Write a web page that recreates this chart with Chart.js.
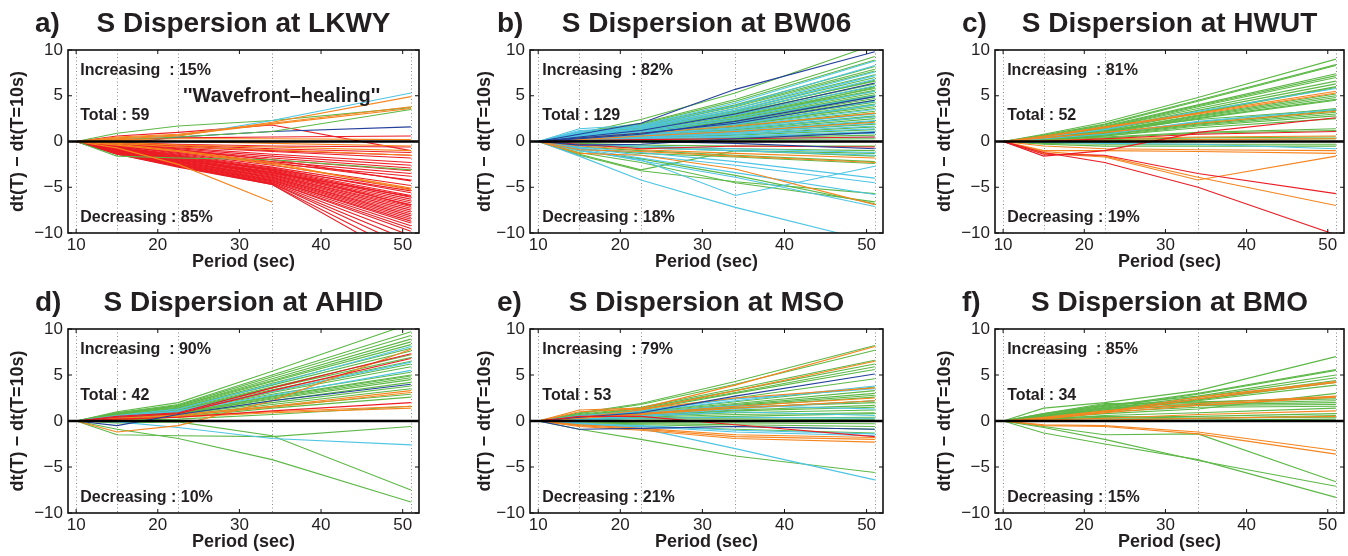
<!DOCTYPE html>
<html>
<head>
<meta charset="utf-8">
<title>S Dispersion</title>
<script src="https://cdn.jsdelivr.net/npm/chart.js@4/dist/chart.umd.min.js"></script>
<style>
  body { margin: 0; background: #fff; width: 1348px; height: 556px; overflow: hidden; position: relative; }
  canvas { position: absolute; }
</style>
</head>
<body>
<script>
// measurement periods (sec); every curve is dt(T) - dt(T=10s), so it starts at 0
var PERIODS = [10, 15, 22.5, 34, 51];
var X_TICKS = [10, 20, 30, 40, 50];
var Y_TICKS = [-10, -5, 0, 5, 10];

var COLORS = {
  red: '#ec1c24',
  orange: '#f6851f',
  green: '#5db847',
  cyan: '#4ec5e4',
  blue: '#24409a'
};

// each row: values at 15, 22.5, 34, 51 s
var LKWY_RED = [
  [0.6, 1.0, 1.8, -1.0], [0.2, 0.4, 0.5, 0.6], [-0.1, -0.3, -0.5, -0.6], [-0.2, -0.4, -0.8, -1.2],
  [-0.2, -0.6, -1.1, -1.8], [-0.3, -0.7, -1.4, -2.3], [-0.3, -0.8, -1.6, -2.6], [-0.4, -0.9, -1.8, -2.9],
  [-0.4, -1.0, -2.0, -3.2], [-0.5, -1.1, -2.2, -3.5], [-0.4, -1.1, -2.3, -4.2], [-0.5, -1.3, -2.6, -4.8],
  [-0.6, -1.4, -2.8, -5.2], [-0.6, -1.5, -2.9, -5.6], [-0.6, -1.6, -3.0, -5.9], [-0.7, -1.6, -3.1, -6.1],
  [-0.7, -1.7, -3.2, -6.3], [-0.7, -1.8, -3.3, -6.5], [-0.8, -1.8, -3.4, -6.7], [-0.8, -1.9, -3.5, -6.9],
  [-0.8, -1.9, -3.6, -7.1], [-0.9, -2.0, -3.6, -7.3], [-0.9, -2.0, -3.7, -7.5], [-0.9, -2.1, -3.8, -7.7],
  [-1.0, -2.1, -3.9, -7.9], [-1.0, -2.2, -3.9, -8.1], [-1.0, -2.2, -4.0, -8.3], [-1.1, -2.3, -4.1, -8.5],
  [-1.1, -2.3, -4.2, -8.7], [-1.1, -2.4, -4.2, -8.9], [-1.2, -2.4, -4.3, -9.2], [-1.2, -2.5, -4.4, -9.5],
  [-1.2, -2.5, -4.4, -9.8], [-1.3, -2.6, -4.5, -10.3], [-1.3, -2.6, -4.6, -10.9], [-1.3, -2.7, -4.6, -11.6],
  [-1.4, -2.7, -4.7, -12.4], [-1.4, -2.8, -4.7, -13.3], [-0.3, -0.9, -2.0, -4.3], [-0.5, -1.2, -2.4, -3.8],
  [-0.9, -1.8, -3.0, -5.4], [-0.2, -0.5, -1.0, -1.5], [-0.6, -1.5, -3.2, -7.0], [-1.0, -2.0, -3.4, -6.0]
];
var LKWY_ORANGE = [
  [0.3, 0.6, 2.1, 4.9], [0.5, 0.8, 2.0, 3.8], [0.4, 0.7, 1.9, 3.6], [0.2, 0.3, 0.3, 0.2],
  [0.1, 0.0, -0.2, -0.5], [-0.1, -0.4, -0.6, -1.0], [-0.2, -0.6, -0.9, -1.5], [-0.7, -2.5, -6.6, null],
  [-0.4, -1.1, -2.5, -5.1], [-0.3, -1.0, -2.3, -5.3]
];
var LKWY_GREEN = [[0.9, 1.7, 2.3, 3.7], [-1.6, -1.8, -2.0, -3.1], [0.2, 0.5, 1.1, 3.5]];
var LKWY_CYAN = [[0.3, 0.6, 2.3, 5.3]];
var LKWY_BLUE = [[-0.3, 0.5, 1.1, 1.6]];

var BW06_GREEN = [
  [0.9, 2.4, 5.3, 10.6], [1.0, 2.0, 4.6, 9.3], [0.8, 1.9, 4.4, 8.9], [0.7, 1.8, 4.0, 8.2],
  [0.9, 1.6, 3.9, 7.9], [0.6, 1.7, 3.8, 7.7], [0.7, 1.5, 3.6, 7.3], [0.5, 1.4, 3.4, 7.0],
  [0.8, 1.5, 3.3, 6.6], [0.6, 1.3, 3.1, 6.3], [0.4, 1.2, 3.0, 6.0], [0.7, 1.3, 2.9, 5.8],
  [0.5, 1.2, 2.8, 5.6], [0.3, 1.0, 2.7, 5.5], [0.6, 1.1, 2.6, 5.3], [0.4, 1.1, 2.5, 5.1],
  [0.5, 1.0, 2.4, 4.9], [0.3, 0.9, 2.3, 4.7], [0.6, 1.0, 2.2, 4.5], [0.4, 0.8, 2.1, 4.3],
  [0.2, 0.8, 2.0, 4.1], [0.5, 0.9, 1.9, 3.8], [0.3, 0.7, 1.8, 3.6], [0.4, 0.8, 1.6, 3.3],
  [0.2, 0.6, 1.5, 3.1], [0.3, 0.6, 1.4, 2.8], [0.1, 0.5, 1.2, 2.5], [0.3, 0.5, 1.1, 2.2],
  [0.2, 0.4, 1.0, 1.9], [0.1, 0.3, 0.8, 1.6], [0.2, 0.4, 0.7, 1.3], [0.1, 0.2, 0.5, 1.0],
  [0.0, 0.1, 0.4, 0.7], [0.1, 0.1, 0.2, 0.3], [0.5, 1.3, 3.2, 6.7], [0.4, 1.0, 2.6, 5.9],
  [0.6, 1.2, 2.4, 5.0], [0.2, 0.7, 1.7, 4.0], [0.3, 0.6, 1.3, 2.7],
  [-0.2, -0.4, -0.5, -0.5], [-0.3, -0.6, -0.8, -1.0], [-0.4, -0.7, -1.0, -1.3], [-0.6, -1.0, -1.5, -2.2],
  [-0.8, -1.3, -1.7, -2.4], [-1.5, -3.2, -4.4, -5.7], [-1.2, -2.3, -4.5, -6.6], [-1.0, -1.9, -3.7, -6.8],
  [-1.4, -3.1, -1.0, -1.6]
];
var BW06_CYAN = [
  [1.4, 1.8, 4.2, 8.8], [1.1, 1.7, 3.9, 8.3], [0.9, 1.6, 3.6, 7.6], [1.2, 1.5, 3.4, 7.2],
  [0.8, 1.4, 3.2, 6.8], [1.0, 1.3, 2.9, 6.1], [0.7, 1.2, 2.6, 5.5], [0.9, 1.1, 2.4, 5.0],
  [0.6, 1.0, 2.1, 4.4], [0.8, 1.0, 1.9, 4.0], [0.5, 0.9, 1.7, 3.5], [0.7, 0.8, 1.5, 3.0],
  [0.4, 0.8, 1.4, 2.7], [0.6, 0.7, 1.2, 2.3], [0.3, 0.6, 1.0, 2.0], [0.5, 0.5, 0.9, 1.7],
  [0.2, 0.5, 0.8, 1.4], [0.4, 0.4, 0.6, 1.1], [0.3, 0.3, 0.5, 0.9], [0.1, 0.2, 0.3, 0.5],
  [-0.3, -0.5, -0.8, -1.2], [-0.4, -0.7, -1.0, -1.5], [-1.0, -2.0, -5.9, -2.7], [-0.6, -1.2, -2.2, -4.0],
  [-0.7, -1.5, -2.6, -4.5], [-0.8, -1.8, -3.4, -5.8], [-0.9, -2.1, -3.9, -7.1], [-1.6, -4.2, -7.2, -11.0]
];
var BW06_BLUE = [
  [0.8, 2.0, 5.7, 9.8], [0.5, 1.2, 3.0, 6.4], [0.3, 0.8, 2.2, 4.9], [0.4, 0.9, 2.0, 4.5],
  [-0.4, -0.3, 0.3, 1.0], [0.1, 0.0, -0.2, -0.8]
];
var BW06_ORANGE = [
  [0.4, 0.9, 1.7, 3.1], [0.2, 0.6, 1.1, 2.1], [-0.9, -1.1, -1.6, -2.3], [-1.3, -1.5, -3.0, -6.9],
  [-0.5, -0.9, -1.3, -1.8]
];
var BW06_RED = [[-0.3, -0.8, -0.5, -0.6], [0.1, 0.2, 0.3, 0.5]];

var HWUT_GREEN = [
  [0.8, 2.1, 4.8, 9.0], [0.7, 1.9, 4.5, 8.4], [0.6, 1.8, 4.4, 8.3], [0.6, 1.7, 4.0, 7.4],
  [0.5, 1.6, 3.9, 7.2], [0.5, 1.5, 3.8, 7.0], [0.4, 1.5, 3.6, 6.6], [0.5, 1.4, 3.4, 6.3],
  [0.4, 1.3, 3.2, 6.0], [0.3, 1.2, 3.1, 5.9], [0.4, 1.1, 2.9, 5.2], [0.3, 1.1, 2.8, 5.0],
  [0.3, 1.0, 2.7, 4.8], [0.2, 1.0, 2.6, 4.6], [0.3, 0.9, 2.5, 4.5], [0.3, 0.9, 2.1, 3.6],
  [0.2, 0.8, 2.0, 3.4], [0.2, 0.8, 1.9, 3.2], [0.2, 0.7, 1.8, 3.0], [0.1, 0.6, 1.7, 2.8],
  [0.2, 0.5, 1.0, 1.4], [0.1, 0.4, 0.9, 1.2], [0.1, 0.2, 0.4, 0.5], [0.0, 0.1, 0.2, 0.3],
  [-0.1, -0.1, 0.0, 0.0], [-0.2, -0.3, -0.3, -0.3], [-0.3, -0.5, -0.5, -0.5], [0.4, 1.2, 2.4, 3.5],
  [0.2, 0.6, 1.5, 2.5]
];
var HWUT_ORANGE = [
  [0.6, 1.6, 3.1, 5.5], [0.5, 1.5, 3.0, 5.3], [0.4, 1.0, 2.0, 3.3], [0.1, 0.3, 0.5, 0.6],
  [0.0, 0.1, 0.2, 0.3], [-0.5, -0.8, -0.9, -1.0], [-1.0, -1.0, -1.1, -1.3], [-1.3, -1.7, -4.2, -1.6],
  [-1.1, -1.6, -3.9, -7.0]
];
var HWUT_RED = [[-1.6, -1.0, 1.0, 2.6], [0.0, 0.3, 0.8, 1.1], [-1.4, -1.5, -3.5, -5.7], [-1.2, -2.3, -5.0, -10.2]];
var HWUT_CYAN = [[0.5, 1.3, 3.3, 5.8], [0.3, 0.8, 2.2, 3.5], [-0.1, -0.2, -0.3, -0.8]];

var AHID_GREEN = [
  [1.0, 2.0, 5.4, 10.6], [0.9, 1.8, 5.0, 9.7], [0.8, 1.7, 4.8, 9.3], [0.9, 1.6, 4.6, 8.9],
  [0.7, 1.6, 4.4, 8.6], [0.8, 1.5, 4.3, 8.3], [0.6, 1.4, 4.1, 7.9], [0.7, 1.4, 3.9, 7.6],
  [0.6, 1.3, 3.7, 7.2], [0.5, 1.2, 3.6, 6.9], [0.6, 1.2, 3.4, 6.5], [0.5, 1.1, 3.2, 6.2],
  [0.4, 1.0, 3.1, 5.9], [0.5, 1.1, 2.9, 5.3], [0.4, 0.9, 2.7, 5.0], [0.3, 0.9, 2.6, 4.9],
  [0.4, 0.8, 2.5, 4.7], [0.3, 0.8, 2.4, 4.5], [0.3, 0.7, 2.2, 4.2], [0.2, 0.7, 2.0, 3.8],
  [0.2, 0.6, 1.8, 3.5], [0.1, 0.5, 1.6, 2.9], [0.2, 0.4, 1.4, 2.6], [0.1, 0.2, 0.7, 1.6],
  [-1.5, -1.6, -1.7, -0.6], [-0.2, -0.1, -1.6, -7.5], [-0.9, -1.9, -4.2, -8.8]
];
var AHID_RED = [[0.5, 0.9, 3.6, 7.3], [0.4, 0.8, 3.3, 6.8], [0.2, 0.4, 1.1, 2.0]];
var AHID_ORANGE = [
  [-1.2, -0.5, 2.2, 7.8], [0.3, 0.7, 1.6, 3.3], [0.2, 0.6, 1.5, 3.1], [0.1, 0.5, 1.0, 1.6],
  [0.2, 0.4, 0.9, 1.4]
];
var AHID_CYAN = [[0.6, 1.3, 4.0, 8.1], [0.5, 1.1, 3.2, 6.4], [0.4, 1.0, 2.8, 5.5], [-0.1, -0.7, -1.9, -2.6]];
var AHID_BLUE = [[-0.5, 0.7, 2.2, 4.0]];

var MSO_GREEN = [
  [0.9, 1.9, 4.3, 8.2], [0.8, 1.8, 4.0, 7.7], [0.7, 1.5, 3.5, 6.6], [0.6, 1.4, 3.3, 6.2],
  [0.6, 1.3, 3.1, 5.9], [0.5, 1.2, 3.0, 5.6], [0.5, 1.1, 2.5, 4.6], [0.4, 1.0, 2.1, 3.7],
  [0.5, 1.0, 1.9, 3.3], [0.4, 0.9, 1.8, 3.0], [0.3, 0.8, 1.7, 2.8], [0.4, 0.8, 1.6, 2.6],
  [0.3, 0.7, 1.4, 2.2], [0.5, 0.8, 1.5, 2.0], [0.2, 0.6, 1.2, 1.7], [0.4, 0.6, 1.1, 1.5],
  [0.3, 0.5, 0.9, 1.2], [0.2, 0.4, 0.7, 0.9], [0.1, 0.3, 0.5, 0.8], [0.2, 0.3, 0.3, 0.4],
  [0.0, 0.1, 0.1, 0.2], [-0.1, -0.2, -0.2, -0.3], [-0.2, -0.3, -0.4, -0.6], [-0.3, -0.4, -0.6, -0.9],
  [-0.4, -0.6, -0.9, -1.3], [-0.9, -2.0, -3.8, -5.6]
];
var MSO_ORANGE = [
  [1.2, 1.4, 3.9, 8.1], [0.4, 1.2, 3.3, 6.5], [1.0, 1.3, 2.5, 3.6], [0.3, 0.8, 1.6, 2.5],
  [0.3, 0.7, 1.4, 2.2], [-0.4, -0.8, -1.5, -1.8], [-0.5, -0.9, -1.7, -2.0], [-0.6, -1.0, -1.9, -2.3]
];
var MSO_BLUE = [[0.4, 0.9, 2.7, 5.1], [-0.9, -0.8, -0.6, -0.9]];
var MSO_CYAN = [
  [0.6, 1.0, 2.2, 3.8], [0.5, 1.1, 2.4, 3.5], [0.3, 0.6, 1.3, 2.2], [0.4, 0.9, 1.7, 1.3],
  [0.2, 0.5, 1.0, 0.6], [0.1, 0.3, 0.4, 0.3], [-0.3, -0.5, -1.0, -1.4], [-0.4, -0.6, -1.2, -1.6],
  [-0.2, -0.8, -3.0, -6.4]
];
var MSO_RED = [[0.5, 0.5, -0.4, -1.7]];

var BMO_GREEN = [
  [1.4, 2.0, 3.3, 7.0], [0.7, 1.6, 3.0, 5.6], [0.6, 1.5, 2.9, 5.5], [0.8, 1.7, 2.7, 5.0],
  [0.5, 1.4, 2.6, 4.7], [0.6, 1.3, 2.4, 4.4], [0.4, 1.2, 2.3, 4.2], [0.5, 1.2, 2.2, 3.9],
  [0.8, 1.9, 2.0, 2.6], [0.7, 1.8, 2.1, 2.4], [0.6, 1.6, 1.9, 2.2], [0.5, 1.4, 1.8, 2.0],
  [0.4, 1.2, 1.7, 1.8], [0.3, 1.0, 1.5, 1.6], [0.3, 0.8, 1.3, 3.0], [0.2, 0.6, 0.9, 1.4],
  [0.2, 0.4, 0.5, 0.8], [0.1, 0.3, 0.3, 0.4], [0.0, 0.1, 0.1, 0.2], [0.3, 0.5, 0.3, 0.6],
  [-0.6, -1.5, -1.4, -6.6], [-0.7, -2.0, -4.3, -7.1], [-1.3, -2.5, -4.2, -8.3]
];
var BMO_ORANGE = [
  [0.3, 1.0, 2.6, 4.3], [0.2, 0.9, 2.4, 4.2], [0.4, 1.1, 1.9, 2.7], [0.3, 0.9, 1.7, 2.6],
  [0.1, 0.3, 0.7, 1.1], [0.0, 0.1, 0.3, 0.5], [-0.4, -0.5, -1.2, -3.2], [-0.5, -0.6, -1.4, -3.6]
];

// plot boxes [left, top, right, bottom] in page pixels; first colour in order is drawn on top
var PANELS = [
  { letter: 'a)', station: 'LKWY', inc: '15%', total: '59', dec: '85%', box: [68, 50, 419, 233], yGap: 50,
    order: ['orange', 'cyan', 'green', 'blue', 'red'],
    lines: { red: LKWY_RED, orange: LKWY_ORANGE, green: LKWY_GREEN, cyan: LKWY_CYAN, blue: LKWY_BLUE },
    note: '\'\'Wavefront\u2013healing\'\'' },
  { letter: 'b)', station: 'BW06', inc: '82%', total: '129', dec: '18%', box: [530, 50, 883, 233], yGap: 45,
    order: ['blue', 'orange', 'red', 'cyan', 'green'],
    lines: { red: BW06_RED, orange: BW06_ORANGE, green: BW06_GREEN, cyan: BW06_CYAN, blue: BW06_BLUE } },
  { letter: 'c)', station: 'HWUT', inc: '81%', total: '52', dec: '19%', box: [995, 50, 1344, 233], yGap: 50,
    order: ['red', 'orange', 'cyan', 'green'],
    lines: { red: HWUT_RED, orange: HWUT_ORANGE, green: HWUT_GREEN, cyan: HWUT_CYAN } },
  { letter: 'd)', station: 'AHID', inc: '90%', total: '42', dec: '10%', box: [68, 329, 419, 513], yGap: 50,
    order: ['blue', 'red', 'orange', 'cyan', 'green'],
    lines: { red: AHID_RED, orange: AHID_ORANGE, green: AHID_GREEN, cyan: AHID_CYAN, blue: AHID_BLUE } },
  { letter: 'e)', station: 'MSO', inc: '79%', total: '53', dec: '21%', box: [530, 329, 883, 513], yGap: 45,
    order: ['red', 'blue', 'orange', 'cyan', 'green'],
    lines: { red: MSO_RED, orange: MSO_ORANGE, green: MSO_GREEN, cyan: MSO_CYAN, blue: MSO_BLUE } },
  { letter: 'f)', station: 'BMO', inc: '85%', total: '34', dec: '15%', box: [995, 329, 1344, 513], yGap: 50,
    order: ['orange', 'green'],
    lines: { orange: BMO_ORANGE, green: BMO_GREEN } }
];

var FONT = "'Liberation Sans', Arial, Helvetica, sans-serif";
var INK = '#231f20';

function makeDatasets(lines, order) {
  var sets = [];
  order.forEach(function (c) {
    (lines[c] || []).forEach(function (vals) {
      sets.push({
        data: [0].concat(vals).map(function (v, i) { return { x: PERIODS[i], y: v }; }),
        borderColor: COLORS[c],
        borderWidth: 1.1,
        pointRadius: 0,
        tension: 0,
        fill: false
      });
    });
  });
  return sets;
}

// matlab-like box: dotted period lines, thick zero line, inward ticks, labels
var frame = {
  id: 'frame',
  beforeDatasetsDraw: function (chart) {
    var a = chart.chartArea, xs = chart.scales.x, ctx = chart.ctx;
    ctx.save();
    ctx.strokeStyle = '#8a8a8a';
    ctx.lineWidth = 1;
    ctx.setLineDash([1, 2.5]);
    PERIODS.forEach(function (p) {
      var px = Math.round(xs.getPixelForValue(p)) + 0.5;
      ctx.beginPath(); ctx.moveTo(px, a.top); ctx.lineTo(px, a.bottom); ctx.stroke();
    });
    ctx.restore();
  },
  afterDatasetsDraw: function (chart) {
    var a = chart.chartArea, xs = chart.scales.x, ys = chart.scales.y, ctx = chart.ctx;
    ctx.save();
    var y0 = ys.getPixelForValue(0);
    ctx.strokeStyle = '#000';
    ctx.lineWidth = 2.6;
    ctx.beginPath(); ctx.moveTo(a.left, y0); ctx.lineTo(a.right, y0); ctx.stroke();

    ctx.lineWidth = 1;
    ctx.strokeStyle = '#111';
    X_TICKS.forEach(function (v) {
      var px = xs.getPixelForValue(v);
      ctx.beginPath(); ctx.moveTo(px, a.bottom); ctx.lineTo(px, a.bottom - 4);
      ctx.moveTo(px, a.top); ctx.lineTo(px, a.top + 4); ctx.stroke();
    });
    Y_TICKS.forEach(function (v) {
      var py = ys.getPixelForValue(v);
      ctx.beginPath(); ctx.moveTo(a.left, py); ctx.lineTo(a.left + 4, py);
      ctx.moveTo(a.right, py); ctx.lineTo(a.right - 4, py); ctx.stroke();
    });
    ctx.lineWidth = 1.6;
    ctx.strokeStyle = '#111';
    ctx.strokeRect(a.left, a.top, a.right - a.left, a.bottom - a.top);
    ctx.restore();
  },
  afterDraw: function (chart, args, opts) {
    var a = chart.chartArea, xs = chart.scales.x, ys = chart.scales.y, ctx = chart.ctx;
    ctx.save();
    ctx.fillStyle = INK;
    ctx.textBaseline = 'middle';
    ctx.font = 'bold 28px ' + FONT;
    ctx.textAlign = 'left';
    ctx.fillText(opts.letter, a.left - 33, a.top - 26);
    ctx.textAlign = 'center';
    ctx.fillText('S Dispersion at ' + opts.station, (a.left + a.right) / 2, a.top - 26);

    ctx.textAlign = 'left';
    ctx.font = 'bold 16px ' + FONT;
    var tx = xs.getPixelForValue(10.5);
    ctx.fillText('Increasing  : ' + opts.inc, tx, ys.getPixelForValue(7.75));
    ctx.fillText('Total : ' + opts.total, tx, ys.getPixelForValue(2.8));
    ctx.fillText('Decreasing : ' + opts.dec, tx, ys.getPixelForValue(-8.3));
    if (opts.note) {
      ctx.font = 'bold 20px ' + FONT;
      ctx.fillText(opts.note, xs.getPixelForValue(23.1), ys.getPixelForValue(4.9));
    }
    ctx.restore();
  }
};

PANELS.forEach(function (p) {
  var plotW = p.box[2] - p.box[0], plotH = p.box[3] - p.box[1];
  var canvas = document.createElement('canvas');
  canvas.width = 68 + plotW + 4;
  canvas.height = 50 + plotH + 45;
  canvas.style.left = (p.box[0] - 68) + 'px';
  canvas.style.top = (p.box[1] - 50) + 'px';
  document.body.appendChild(canvas);

  new Chart(canvas, {
    type: 'line',
    data: { datasets: makeDatasets(p.lines, p.order) },
    options: {
      responsive: false,
      animation: false,
      events: [],
      layout: { padding: { top: 50, right: 4, left: 0, bottom: 0 } },
      plugins: {
        legend: { display: false },
        tooltip: { enabled: false },
        frame: { letter: p.letter, station: p.station, inc: p.inc, total: p.total, dec: p.dec, note: p.note }
      },
      scales: {
        x: {
          type: 'linear', min: 9, max: 52,
          afterBuildTicks: function (s) { s.ticks = X_TICKS.map(function (v) { return { value: v }; }); },
          afterFit: function (s) { s.height = 45; },
          grid: { display: false, drawTicks: false },
          border: { display: false },
          ticks: { color: INK, font: { family: FONT, size: 17 }, padding: 2, maxRotation: 0 },
          title: { display: true, text: 'Period (sec)', color: INK,
                   font: { family: FONT, size: 18, weight: 'bold' }, padding: { top: 0, bottom: 5 } }
        },
        y: {
          type: 'linear', min: -10, max: 10,
          afterBuildTicks: function (s) { s.ticks = Y_TICKS.map(function (v) { return { value: v }; }); },
          afterFit: function (s) { s.width = 68; },
          grid: { display: false, drawTicks: false },
          border: { display: false },
          ticks: { color: INK, font: { family: FONT, size: 17 }, padding: 5,
                   callback: function (v) { return v < 0 ? '\u2212' + (-v) : '' + v; } },
          title: { display: true, text: 'dt(T) \u2212 dt(T=10s)', color: INK,
                   font: { family: FONT, size: 18, weight: 'bold' },
                   padding: { top: 68 - p.yGap - 10.8, bottom: 0 } }
        }
      }
    },
    plugins: [frame]
  });
});
</script>
</body>
</html>
